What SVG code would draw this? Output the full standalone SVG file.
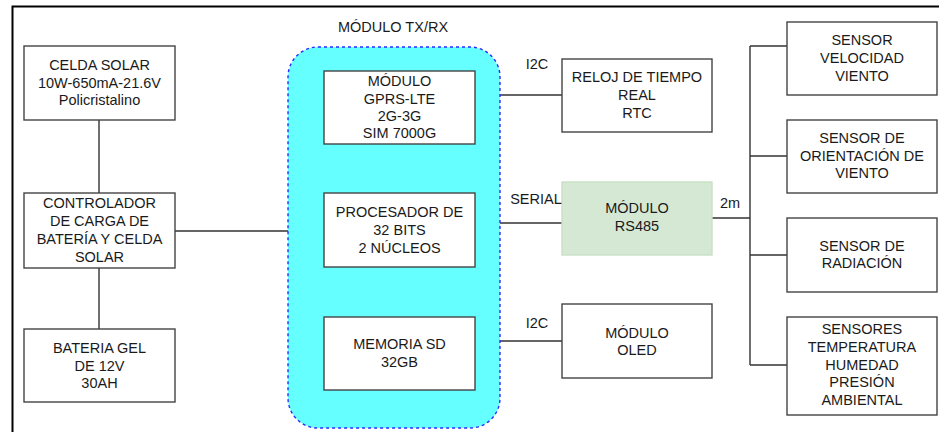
<svg xmlns="http://www.w3.org/2000/svg" width="939" height="432" viewBox="0 0 939 432">
<style>
.box{fill:#fff;stroke:#444;stroke-width:1.4}
.t{font-family:"Liberation Sans",Arial,sans-serif;font-size:14.5px;fill:#1a1a1a;text-anchor:middle;dominant-baseline:central}
.c{stroke:#333;stroke-width:1.4;fill:none}
</style>
<rect x="0" y="0" width="939" height="432" fill="#fff"/>
<path d="M12.5,440 V6.5 H945" fill="none" stroke="#000" stroke-width="2"/>
<g id="connectors">
<path class="c" d="M99,120 V193 M99,268 V329 M175,231 H288 M400,144 V193 M400,267 V317 M500,95 H562 M500,223 H562 M500,341 H562 M712,218 H750 M750,46 V365 M750,46 H787 M750,156 H787 M750,255 H787 M750,365 H787"/>
</g>
<g id="txrx">
<rect x="288" y="47" width="212" height="381" rx="30" fill="#66ffff" stroke="#2b2bff" stroke-width="1.4" stroke-dasharray="3,3"/>
<text class="t" x="393" y="27">MÓDULO TX/RX</text>
</g>
<g id="celda"><rect class="box" x="24" y="46" width="151" height="74"/>
<text class="t" x="99.5" y="65">CELDA SOLAR</text><text class="t" x="99.5" y="82.5">10W-650mA-21.6V</text><text class="t" x="99.5" y="100">Policristalino</text></g>
<g id="controlador"><rect class="box" x="24" y="193" width="151" height="75"/>
<text class="t" x="99.5" y="203">CONTROLADOR</text><text class="t" x="99.5" y="221">DE CARGA DE</text><text class="t" x="99.5" y="239">BATERÍA Y CELDA</text><text class="t" x="99.5" y="257">SOLAR</text></g>
<g id="bateria"><rect class="box" x="24" y="329" width="151" height="73"/>
<text class="t" x="99.5" y="348">BATERIA GEL</text><text class="t" x="99.5" y="365.5">DE 12V</text><text class="t" x="99.5" y="383">30AH</text></g>
<g id="gprs"><rect class="box" x="324" y="71" width="151" height="73"/>
<text class="t" x="399.5" y="81">MÓDULO</text><text class="t" x="399.5" y="99">GPRS-LTE</text><text class="t" x="399.5" y="116">2G-3G</text><text class="t" x="399.5" y="133">SIM 7000G</text></g>
<g id="procesador"><rect class="box" x="324" y="193" width="151" height="74"/>
<text class="t" x="399.5" y="212">PROCESADOR DE</text><text class="t" x="399.5" y="230">32 BITS</text><text class="t" x="399.5" y="248">2 NÚCLEOS</text></g>
<g id="memoria"><rect class="box" x="324" y="317" width="151" height="73"/>
<text class="t" x="399.5" y="344">MEMORIA SD</text><text class="t" x="399.5" y="362">32GB</text></g>
<g id="reloj"><rect class="box" x="562" y="59" width="150" height="73"/>
<text class="t" x="637" y="77">RELOJ DE TIEMPO</text><text class="t" x="637" y="95">REAL</text><text class="t" x="637" y="113">RTC</text></g>
<g id="rs485"><rect x="562" y="182" width="150" height="73" fill="#d5e8d4" stroke="#c8e2c6" stroke-width="1.4"/>
<text class="t" x="637" y="208">MÓDULO</text><text class="t" x="637" y="226">RS485</text></g>
<g id="oled"><rect class="box" x="562" y="304" width="150" height="74"/>
<text class="t" x="637" y="333">MÓDULO</text><text class="t" x="637" y="350">OLED</text></g>
<g id="s1"><rect class="box" x="787" y="22" width="150" height="73"/>
<text class="t" x="862" y="40">SENSOR</text><text class="t" x="862" y="58">VELOCIDAD</text><text class="t" x="862" y="76">VIENTO</text></g>
<g id="s2"><rect class="box" x="787" y="120" width="150" height="73"/>
<text class="t" x="862" y="138">SENSOR DE</text><text class="t" x="862" y="156">ORIENTACIÓN DE</text><text class="t" x="862" y="173">VIENTO</text></g>
<g id="s3"><rect class="box" x="787" y="218" width="150" height="74"/>
<text class="t" x="862" y="246">SENSOR DE</text><text class="t" x="862" y="263">RADIACIÓN</text></g>
<g id="s4"><rect class="box" x="787" y="317" width="150" height="98"/>
<text class="t" x="862" y="329">SENSORES</text><text class="t" x="862" y="347">TEMPERATURA</text><text class="t" x="862" y="365">HUMEDAD</text><text class="t" x="862" y="382">PRESIÓN</text><text class="t" x="862" y="400">AMBIENTAL</text></g>
<g id="labels">
<text class="t" x="537" y="64">I2C</text>
<text class="t" x="536" y="199">SERIAL</text>
<text class="t" x="537" y="323">I2C</text>
<text class="t" x="730" y="203">2m</text>
</g>
</svg>
